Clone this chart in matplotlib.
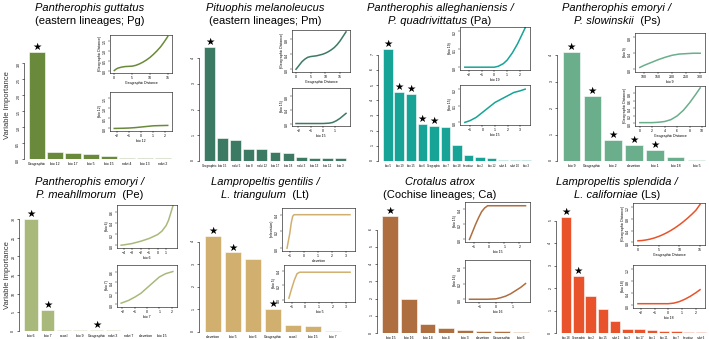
import matplotlib.pyplot as plt

plt.rcParams['font.family'] = ['Liberation Sans', 'DejaVu Sans']

W, H = 709, 339

################################################################################
# DATA
################################################################################

# Pantherophis guttatus (Pg)
pg_names = ['Geographic', 'bio 12', 'bio 17', 'bio 5', 'bio 15', 'ndvi 4', 'bio 13', 'ndvi 2']
pg_imp = [3.35, 0.22, 0.2, 0.15, 0.1, 0.03, 0.03, 0.02]
pg_star = [0]
pg_top_x = [0, 0.5, 1, 2, 3, 4, 5, 6, 7, 8, 9, 10, 11, 12, 13, 14, 15]
pg_top_y = [0.0, 0.07, 0.12, 0.17, 0.2, 0.21, 0.22, 0.26, 0.33, 0.42, 0.53, 0.66, 0.82, 1.0, 1.2, 1.45, 1.72]
pg_bot_x = [-2.2, -1.5, -1, -0.5, 0, 0.5, 1, 1.5, 2.2]
pg_bot_y = [0.0, 0.01, 0.02, 0.04, 0.07, 0.1, 0.13, 0.14, 0.15]

# Pituophis melanoleucus (Pm)
pm_names = ['Geographic', 'bio 15', 'ndvi 5', 'bio 8', 'ndvi 12', 'bio 17', 'bio 18',
            'ndvi 3', 'bio 13', 'bio 12', 'bio 3']
pm_imp = [4.44, 0.91, 0.82, 0.48, 0.48, 0.36, 0.3, 0.17, 0.12, 0.12, 0.12]
pm_star = [0]
pm_top_x = [0, 1, 2, 3, 4, 5, 6, 7, 8, 9, 10, 11, 12, 13, 14, 15, 16, 17]
pm_top_y = [0.0, 0.1, 0.2, 0.27, 0.32, 0.34, 0.35, 0.36, 0.38, 0.4, 0.43, 0.47, 0.52, 0.58, 0.66, 0.76, 0.88, 1.0]
pm_bot_x = [-2.2, -1, 0, 0.5, 0.8, 1.1, 1.4, 1.7, 1.9]
pm_bot_y = [0.0, 0.0, 0.0, 0.01, 0.03, 0.08, 0.15, 0.24, 0.3]

# Pantherophis alleghaniensis / P. quadrivittatus (Pa)
pa_names = ['bio 5', 'bio 19', 'bio 15', 'bio 6', 'Geographic', 'bio 7', 'bio 18',
            'elevation', 'bio 2', 'bio 12', 'ndvi 4', 'ndvi 10', 'bio 3']
pa_imp = [7.4, 4.56, 4.43, 2.42, 2.31, 2.27, 1.06, 0.37, 0.29, 0.2, 0.09, 0.07, 0.04]
pa_star = [0, 1, 2, 3, 4]
pa_top_x = [-2.3, -1, 0, 0.3, 0.7, 1, 1.4, 1.8, 2.2, 2.4]
pa_top_y = [0.0, 0.0, 0.0, 0.005, 0.02, 0.04, 0.08, 0.13, 0.19, 0.22]
pa_bot_x = [-1.4, -1, -0.5, 0, 0.5, 1, 1.5, 2, 2.5, 3, 3.4]
pa_bot_y = [0.0, 0.01, 0.03, 0.06, 0.09, 0.12, 0.14, 0.16, 0.18, 0.19, 0.2]

# Pantherophis emoryi / P. slowinskii (Ps)
ps_names = ['bio 9', 'Geographic', 'bio 2', 'elevation', 'bio 1', 'bio 18', 'bio 5']
ps_imp = [4.1, 2.45, 0.79, 0.6, 0.42, 0.14, 0.03]
ps_star = [0, 1, 2, 3, 4]
ps_top_x = [85, 100, 125, 150, 175, 200, 225, 250, 275, 300]
ps_top_y = [0.05, 0.1, 0.17, 0.24, 0.3, 0.35, 0.38, 0.39, 0.4, 0.4]
ps_bot_x = [0, 1, 2, 3, 4, 5, 6, 7, 8, 9, 9.7]
ps_bot_y = [0.02, 0.02, 0.02, 0.03, 0.05, 0.1, 0.2, 0.35, 0.55, 0.78, 0.95]

# Pantherophis emoryi / P. meahllmorum (Pe)
pe_names = ['bio 6', 'bio 7', 'ecoel', 'bio 9', 'Geographic', 'ndvi 3', 'ndvi 7',
            'elevation', 'bio 15']
pe_imp = [30.0, 5.6, 0.4, 0.35, 0.25, 0.15, 0.1, 0.05, 0.05]
pe_star = [0, 1, 4]
pe_top_x = [-4.3, -4, -3, -2, -1, 0, 0.5, 1, 1.3, 1.6, 1.8]
pe_top_y = [0.0, 0.005, 0.03, 0.07, 0.12, 0.19, 0.25, 0.35, 0.45, 0.6, 0.7]
pe_bot_x = [-2.1, -1.5, -1, -0.5, 0, 0.5, 1, 1.5, 2.1]
pe_bot_y = [0.02, 0.07, 0.13, 0.2, 0.3, 0.4, 0.5, 0.56, 0.6]

# Lampropeltis gentilis / L. triangulum (Lt)
lt_names = ['elevation', 'bio 5', 'bio 6', 'Geographic', 'ecoel', 'bio 15', 'bio 7']
lt_imp = [4.25, 3.53, 3.26, 1.04, 0.33, 0.27, 0.04]
lt_star = [0, 1, 3]
lt_top_x = [-1.2, -1.0, -0.9, -0.8, -0.7, -0.5, 0, 1, 2, 3.3]
lt_top_y = [0.0, 0.18, 0.3, 0.38, 0.4, 0.4, 0.4, 0.4, 0.4, 0.4]
lt_bot_x = [-1.2, -1.0, -0.8, -0.6, -0.4, 0, 1, 2, 3.3]
lt_bot_y = [0.02, 0.15, 0.27, 0.36, 0.38, 0.38, 0.38, 0.38, 0.38]

# Crotalus atrox (Ca)
ca_names = ['bio 15', 'bio 16', 'bio 14', 'bio 4', 'bio 3', 'elevation', 'Geographic', 'bio 6']
ca_imp = [6.8, 1.95, 0.5, 0.29, 0.19, 0.1, 0.1, 0.04]
ca_star = [0]
ca_top_x = [-1.3, -1.1, -0.9, -0.7, -0.5, -0.3, -0.1, 0, 1, 2, 2.4]
ca_top_y = [0.0, 0.1, 0.2, 0.29, 0.37, 0.42, 0.45, 0.45, 0.45, 0.45, 0.45]
ca_bot_x = [-1.6, -1, -0.5, 0, 0.3, 0.6, 0.9, 1.2, 1.5, 1.8]
ca_bot_y = [0.0, 0.0, 0.0, 0.005, 0.02, 0.04, 0.07, 0.11, 0.15, 0.2]

# Lampropeltis splendida / L. californiae (Ls)
ls_names = ['bio 18', 'Geographic', 'bio 2', 'bio 15', 'ndvi 2', 'bio 3', 'bio 17',
            'bio 1', 'bio 11', 'bio 7', 'elevation', 'ndvi 6']
ls_imp = [5.15, 2.55, 1.63, 1.08, 0.52, 0.19, 0.18, 0.15, 0.1, 0.09, 0.04, 0.03]
ls_star = [0, 1]
ls_top_x = [0, 1, 2, 3, 4, 5, 6, 7, 8, 9, 10, 11, 12, 13, 14, 15]
ls_top_y = [0.05, 0.06, 0.08, 0.11, 0.15, 0.2, 0.26, 0.33, 0.41, 0.5, 0.6, 0.71, 0.83, 0.96, 1.1, 1.3]
ls_bot_x = [-2.2, -1, 0, 0.4, 0.8, 1.2, 1.6, 2, 2.3]
ls_bot_y = [0.05, 0.05, 0.05, 0.07, 0.12, 0.2, 0.3, 0.42, 0.52]

################################################################################
# HELPERS
################################################################################

fig = plt.figure(figsize=(W / 100, H / 100), dpi=100)
TFS = 8
TICK_FS = 2.5


def box(x0, x1, y0, y1):
    # pixel box (top-left origin) -> figure axes
    return fig.add_axes([x0 / W, 1 - y1 / H, (x1 - x0) / W, (y1 - y0) / H])


def title(cx, y, parts):
    r = fig.canvas.get_renderer()
    texts = []
    for s, st in parts:
        texts.append(fig.text(0, 1 - y / H, s, style=st, fontsize=TFS, va='center'))
    widths = [t.get_window_extent(r).width for t in texts]
    x = cx - sum(widths) / 2
    for t, w in zip(texts, widths):
        t.set_x(x / W)
        x += w


def bars(pos, names, imp, stars, color, ytop, yticks, lab_fs=TICK_FS):
    x0, x1, y0, y1 = pos
    ax = box(x0, x1, y0, y1)
    n = len(names)
    ax.bar(range(n), imp, width=0.84, color=color, edgecolor='white', linewidth=0.4)
    for i in stars:
        ax.text(i, imp[i], '★', ha='center', va='bottom', fontsize=7.5,
                family='DejaVu Sans')
    ax.set_xlim(-0.5, n - 0.5)
    ax.set_ylim(0, ytop)
    ax.set_xticks(range(n))
    ax.set_xticklabels(names, fontsize=lab_fs)
    ax.tick_params(axis='x', length=0, pad=2)
    ax.set_yticks(yticks)
    ax.tick_params(axis='y', length=1.5, width=0.4, labelsize=TICK_FS, pad=1,
                   labelrotation=90)
    for s in ['top', 'right', 'bottom']:
        ax.spines[s].set_visible(False)
    ax.spines['left'].set_position(('outward', 3))
    ax.spines['left'].set_bounds(yticks[0], yticks[-1])
    ax.spines['left'].set_linewidth(0.4)
    ax.patch.set_alpha(0)
    return ax


def inset(pos, xs, ys, color, xlabel, ylabel, xticks, ylim, yticks):
    x0, x1, y0, y1 = pos
    ax = box(x0, x1, y0, y1)
    ax.plot(xs, ys, color=color, lw=1.1)
    lo, hi = ylim
    pad = 0.07 * (hi - lo)
    ax.set_ylim(lo - pad, hi)
    ax.set_xticks(xticks)
    ax.set_yticks(yticks)
    ax.margins(x=0.08)
    ax.tick_params(length=1.2, width=0.3, labelsize=TICK_FS, pad=1)
    ax.tick_params(axis='y', labelrotation=90)
    ax.set_xlabel(xlabel, fontsize=TICK_FS, labelpad=1)
    ax.set_ylabel(ylabel, fontsize=TICK_FS, labelpad=1)
    for s in ax.spines.values():
        s.set_linewidth(0.4)
    ax.set_facecolor('white')
    return ax


################################################################################
# PANELS
################################################################################

R1 = (8, 21)
R2 = (182, 195)

# --- row 1 ---
c = '#6a8a3b'
title(90, R1[0], [('Pantherophis guttatus', 'italic')])
title(90, R1[1], [('(eastern lineages; Pg)', 'normal')])
bars((28, 172, 40, 159), pg_names, pg_imp, pg_star, c, 3.72, [0, 0.5, 1.0, 1.5, 2.0, 2.5, 3.0])
inset((110, 172, 35, 73), pg_top_x, pg_top_y, c, 'Geographic Distance',
      'f(Geographic Distance)', [0, 5, 10, 15], (0, 1.8), [0, 0.5, 1.0, 1.5])
inset((110, 172, 92, 131), pg_bot_x, pg_bot_y, c, 'bio 12', 'f(bio 12)',
      [-2, -1, 0, 1, 2], (0, 1.8), [0, 0.5, 1.0, 1.5])

c = '#3d7a63'
title(265, R1[0], [('Pituophis melanoleucus', 'italic')])
title(265, R1[1], [('(eastern lineages; Pm)', 'normal')])
bars((203, 347, 38, 161), pm_names, pm_imp, pm_star, c, 4.79, [0, 1, 2, 3, 4], 2.2)
inset((292, 350, 30, 72), pm_top_x, pm_top_y, c, 'Geographic Distance',
      'f(Geographic Distance)', [0, 5, 10, 15], (0, 1.05), [0, 0.4, 0.8])
inset((292, 350, 88, 126), pm_bot_x, pm_bot_y, c, 'bio 15', 'f(bio 15)',
      [-2, -1, 0, 1], (0, 1.05), [0, 0.4, 0.8])

c = '#17a497'
title(440, R1[0], [('Pantherophis alleghaniensis /', 'italic')])
title(440, R1[1], [('P. quadrivittatus', 'italic'), (' (Pa)', 'normal')])
bars((382, 532, 38, 161), pa_names, pa_imp, pa_star, c, 8.1, [0, 1, 2, 3, 4, 5, 6, 7], 2.0)
inset((460, 530, 27, 70), pa_top_x, pa_top_y, c, 'bio 19', 'f(bio 19)',
      [-2, -1, 0, 1, 2], (0, 0.225), [0, 0.1, 0.2])
inset((460, 530, 85, 125), pa_bot_x, pa_bot_y, c, 'bio 15', 'f(bio 15)',
      [-1, 0, 1, 2, 3], (0, 0.225), [0, 0.1, 0.2])

c = '#6aae8c'
title(617, R1[0], [('Pantherophis emoryi /', 'italic')])
title(617, R1[1], [('P. slowinskii', 'italic'), ('  (Ps)', 'normal')])
bars((561, 707, 40, 161), ps_names, ps_imp, ps_star, c, 4.57, [0, 1, 2, 3, 4])
inset((635, 705, 33, 72), ps_top_x, ps_top_y, c, 'bio 9', 'f(bio 9)',
      [100, 150, 200, 250, 300], (0, 0.9), [0, 0.4, 0.8])
inset((635, 705, 86, 126), ps_bot_x, ps_bot_y, c, 'Geographic Distance',
      'f(Geographic Distance)', [0, 2, 4, 6, 8, 10], (0, 1.0), [0, 0.2, 0.4, 0.6, 0.8])

# --- row 2 ---
c = '#a9b97b'
title(90, R2[0], [('Pantherophis emoryi /', 'italic')])
title(90, R2[1], [('P. meahllmorum', 'italic'), ('  (Pe)', 'normal')])
bars((23, 170, 210, 331), pe_names, pe_imp, pe_star, c, 32.4, [0, 5, 10, 15, 20, 25, 30])
inset((117, 177, 205, 248), pe_top_x, pe_top_y, c, 'bio 6', 'f(bio 6)',
      [-4, -3, -2, -1, 0, 1], (0, 0.72), [0, 0.2, 0.4, 0.6])
inset((117, 177, 265, 307), pe_bot_x, pe_bot_y, c, 'bio 7', 'f(bio 7)',
      [-2, -1, 0, 1, 2], (0, 0.72), [0, 0.2, 0.4, 0.6])

c = '#d1b06f'
title(265, R2[0], [('Lampropeltis gentilis /', 'italic')])
title(265, R2[1], [('L. triangulum', 'italic'), ('  (Lt)', 'normal')])
bars((203, 343, 225, 332), lt_names, lt_imp, lt_star, c, 4.75, [0, 1, 2, 3, 4])
inset((282, 355, 208, 251), lt_top_x, lt_top_y, c, 'elevation', 'f(elevation)',
      [-1, 0, 1, 2, 3], (0, 0.48), [0, 0.2, 0.4])
inset((284, 355, 265, 302), lt_bot_x, lt_bot_y, c, 'bio 5', 'f(bio 5)',
      [-1, 0, 1, 2, 3], (0, 0.48), [0, 0.2, 0.4])

c = '#ae6e3f'
title(440, R2[0], [('Crotalus atrox', 'italic')])
title(440, R2[1], [('(Cochise lineages; Ca)', 'normal')])
bars((381, 530, 210, 333), ca_names, ca_imp, ca_star, c, 7.15, [0, 1, 2, 3, 4, 5, 6])
inset((465, 530, 202, 242), ca_top_x, ca_top_y, c, 'bio 15', 'f(bio 15)',
      [-1, 0, 1, 2], (0, 0.5), [0, 0.2, 0.4])
inset((465, 530, 260, 302), ca_bot_x, ca_bot_y, c, 'bio 16', 'f(bio 16)',
      [-1, 0, 1], (0, 0.5), [0, 0.2, 0.4])

c = '#e8532b'
title(617, R2[0], [('Lampropeltis splendida /', 'italic')])
title(617, R2[1], [('L. californiae', 'italic'), (' (Ls)', 'normal')])
bars((560, 707, 210, 333), ls_names, ls_imp, ls_star, c, 5.47, [0, 1, 2, 3, 4, 5], 2.0)
inset((633, 705, 203, 245), ls_top_x, ls_top_y, c, 'Geographic Distance',
      'f(Geographic Distance)', [0, 5, 10, 15], (0, 1.35), [0, 0.4, 0.8, 1.2])
inset((633, 705, 265, 308), ls_bot_x, ls_bot_y, c, 'bio 18', 'f(bio 18)',
      [-2, -1, 0, 1, 2], (0, 1.35), [0, 0.4, 0.8, 1.2])

# y axis titles of the left column
fig.text(8 / W, 1 - 105 / H, 'Variable Importance', rotation=90, fontsize=5.5,
         ha='center', va='center', color='#333333')
fig.text(8 / W, 1 - 275 / H, 'Variable Importance', rotation=90, fontsize=5.5,
         ha='center', va='center', color='#333333')

fig.savefig('out.png', dpi=100)
